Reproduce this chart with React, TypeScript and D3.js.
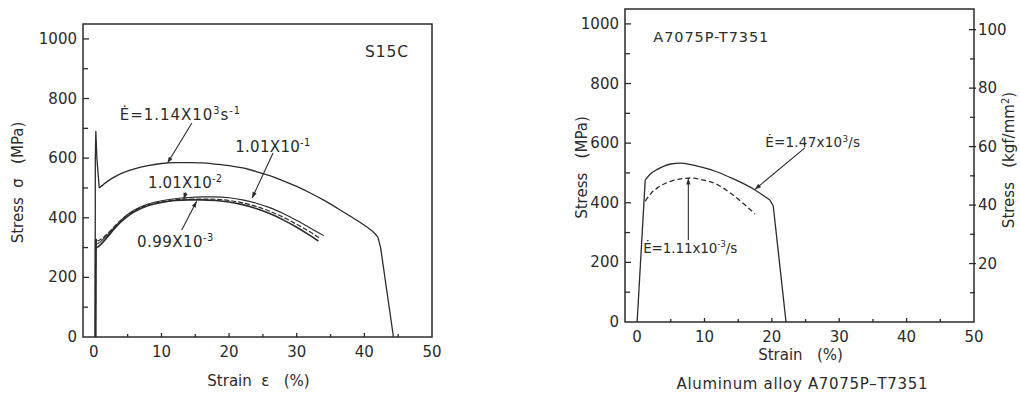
import React from "react";
import * as d3 from "d3";

// ---------- data ----------
const strainTicks = [0, 10, 20, 30, 40, 50];
const strainMinor = [5, 15, 25, 35, 45];
const stressTicks = [0, 200, 400, 600, 800, 1000];
const stressMinor = [100, 300, 500, 700, 900];
const kgfTicks = [20, 40, 60, 80, 100];
const kgfMinor = [10, 30, 50, 70, 90];

// S15C, rate 1.14e3 /s
const s15cFastYield: [number, number][] = [[0.2, 0], [0.22, 600], [0.3, 690], [0.45, 600], [0.8, 500]];
const s15cFastBody: [number, number][] = [
  [0.8, 500], [2, 522], [4, 548], [6, 564], [8, 575], [10, 582], [12, 585], [14, 585], [16, 584],
  [18, 580], [20, 575], [22, 567], [24, 555], [26, 541], [28, 524], [30, 505], [32, 483], [34, 459],
  [36, 432], [38, 404], [40, 375], [41.5, 348], [42.0, 335],
];
const s15cFastFracture: [number, number][] = [[42.0, 335], [42.4, 300], [44.3, 0]];
// S15C, quasi-static rates
const s15cElastic: [number, number][] = [[0.25, 0], [0.3, 330]];
const s15cRate1e1: [number, number][] = [
  [0.5, 312], [1, 320], [2, 342], [3, 367], [4, 391], [5, 411], [6, 426], [8, 446], [10, 457], [12, 464],
  [14, 468], [16, 470], [18, 470], [20, 467], [22, 460], [24, 449], [26, 434], [28, 414], [30, 391],
  [32, 366], [34, 340],
];
const s15cRate1e2: [number, number][] = [
  [0.5, 322], [1, 327], [2, 346], [3, 370], [4, 392], [5, 410], [6, 424], [8, 443], [10, 453], [12, 460],
  [14, 463], [16, 463], [18, 462], [20, 458], [22, 450], [24, 438], [26, 422], [28, 402], [30, 378],
  [32, 352], [33.5, 330],
];
const s15cRate1e3: [number, number][] = [
  [0.5, 300], [1, 310], [2, 335], [3, 362], [4, 386], [5, 405], [6, 420], [8, 440], [10, 451], [12, 458],
  [14, 460], [16, 460], [18, 458], [20, 453], [22, 444], [24, 431], [26, 414], [28, 393], [30, 368],
  [32, 340], [33.2, 322],
];

// A7075P-T7351
const alFastElastic: [number, number][] = [[0, 0], [1.2, 476]];
const alFastBody: [number, number][] = [
  [1.2, 476], [2, 497], [3, 512], [4, 523], [5, 530], [6.4, 533], [8, 528], [9.3, 521], [11.8, 504],
  [14.3, 480], [17.5, 443], [19.7, 409],
];
const alFastFracture: [number, number][] = [[19.7, 409], [20.2, 390], [22.1, 0]];
const alSlowBody: [number, number][] = [
  [1.2, 405], [2, 430], [3, 450], [4, 463], [5, 472], [6.5, 480], [7.9, 483], [9.5, 478], [11.9, 461],
  [14, 430], [16, 393], [17.5, 362],
];

const MPA_PER_KGF = 9.80665;

// ---------- helpers ----------
type Part = { t: string; sup?: boolean };
const INK = "#2b2b2b";
const FONT = "DejaVu Sans, sans-serif";

function RichText({ x, y, parts, size, len }: { x: number; y: number; parts: Part[]; size: number; len?: number }) {
  const out: React.ReactNode[] = [];
  let prevSup = false;
  parts.forEach((p, i) => {
    let dy = 0;
    if (p.sup && !prevSup) dy = -size * 0.4;
    if (!p.sup && prevSup) dy = size * 0.4;
    out.push(
      <tspan key={i} dy={dy} fontSize={p.sup ? size * 0.65 : size}>
        {p.t}
      </tspan>
    );
    prevSup = !!p.sup;
  });
  return (
    <text x={x} y={y} fill={INK} fontFamily={FONT} fontSize={size} textLength={len} lengthAdjust="spacing">
      {out}
    </text>
  );
}

type Ann = { parts: Part[]; tx: number; ty: number; from: [number, number]; to: [number, number] | null; size: number; len?: number };

const s15cAnnotations: Ann[] = [
  { parts: [{ t: "Ė=1.14X10" }, { t: "3", sup: true }, { t: "s" }, { t: "-1", sup: true }], tx: 3.85, ty: 728, from: [14.5, 718], to: [10.9, 584], size: 15, len: 120 },
  { parts: [{ t: "1.01X10" }, { t: "-1", sup: true }], tx: 20.9, ty: 621, from: [26.5, 617], to: [23.4, 466], size: 15, len: 75 },
  { parts: [{ t: "1.01X10" }, { t: "-2", sup: true }], tx: 8.0, ty: 500, from: [13.6, 485], to: [13.3, 463], size: 15, len: 74 },
  { parts: [{ t: "0.99X10" }, { t: "-3", sup: true }], tx: 6.4, ty: 302, from: [13.0, 359], to: [15.2, 455], size: 15, len: 76 },
  { parts: [{ t: "S15C" }], tx: 40.1, ty: 940, from: [0, 0], to: null, size: 15.5, len: 43 },
];
const alAnnotations: Ann[] = [
  { parts: [{ t: "Ė=1.47x10" }, { t: "3", sup: true }, { t: "/s" }], tx: 19.0, ty: 587, from: [24.9, 584], to: [17.5, 445], size: 13.5, len: 95 },
  { parts: [{ t: "Ė=1.11x10" }, { t: "-3", sup: true }, { t: "/s" }], tx: 0.9, ty: 232, from: [7.6, 275], to: [7.6, 481], size: 13.5, len: 94 },
  { parts: [{ t: "A7075P-T7351" }], tx: 2.4, ty: 940, from: [0, 0], to: null, size: 14.5, len: 115 },
];

function Arrow({ x1, y1, x2, y2 }: { x1: number; y1: number; x2: number; y2: number }) {
  const a = Math.atan2(y2 - y1, x2 - x1);
  const L = 6, W = 2.2;
  const bx = x2 - L * Math.cos(a), by = y2 - L * Math.sin(a);
  const p = `${x2},${y2} ${bx + W * Math.sin(a)},${by - W * Math.cos(a)} ${bx - W * Math.sin(a)},${by + W * Math.cos(a)}`;
  return (
    <g>
      <line x1={x1} y1={y1} x2={x2} y2={y2} stroke={INK} strokeWidth={1.1} />
      <polygon points={p} fill={INK} />
    </g>
  );
}

type Series = { data: [number, number][]; smooth: boolean; dash?: string; width?: number };

function Panel({
  xr, xMin, yr, series, anns, leftLabel, bottomLabel, bottomY, leftLabelX, rightAxis,
}: {
  xr: [number, number]; xMin: number; yr: [number, number]; series: Series[]; anns: Ann[];
  leftLabel: string; bottomLabel: string; bottomY: number; leftLabelX: number; rightAxis?: boolean;
}) {
  const x = d3.scaleLinear().domain([xMin, 50]).range(xr);
  const y = d3.scaleLinear().domain([0, 1050]).range(yr);
  const yk = d3.scaleLinear().domain([0, 1050 / MPA_PER_KGF]).range(yr);
  const smoothLine = d3.line<[number, number]>().x((d) => x(d[0])).y((d) => y(d[1])).curve(d3.curveMonotoneX);
  const linLine = d3.line<[number, number]>().x((d) => x(d[0])).y((d) => y(d[1]));
  const [x0, x1] = xr;
  const [y0, y1] = yr;
  const fs = 15;
  const midY = (y0 + y1) / 2 + 2;
  return (
    <g>
      {series.map((s, i) => (
        <path key={i} d={(s.smooth ? smoothLine : linLine)(s.data) || ""} fill="none" stroke={INK}
          strokeWidth={s.width ?? 1.3} strokeDasharray={s.dash} strokeLinejoin="round" />
      ))}
      <rect x={x0} y={y1} width={x1 - x0} height={y0 - y1} fill="none" stroke={INK} strokeWidth={1.5} />
      {strainTicks.map((t) => (
        <g key={"xt" + t}>
          {t > 0 && t < 50 && <line x1={x(t)} x2={x(t)} y1={y0} y2={y0 - 4} stroke={INK} strokeWidth={1.3} />}
          <text x={x(t)} y={y0 + 20} textAnchor="middle" fill={INK} fontFamily={FONT} fontSize={fs}>{t}</text>
        </g>
      ))}
      {strainMinor.map((t) => (
        <line key={"xm" + t} x1={x(t)} x2={x(t)} y1={y0} y2={y0 - 3} stroke={INK} strokeWidth={1.3} />
      ))}
      {stressTicks.map((t) => (
        <g key={"yt" + t}>
          {t > 0 && <line x1={x0} x2={x0 + 6} y1={y(t)} y2={y(t)} stroke={INK} strokeWidth={1.3} />}
          <text x={x0 - 6} y={y(t) + 5} textAnchor="end" fill={INK} fontFamily={FONT} fontSize={fs}>{t}</text>
        </g>
      ))}
      {stressMinor.map((t) => (
        <line key={"ym" + t} x1={x0} x2={x0 + 5} y1={y(t)} y2={y(t)} stroke={INK} strokeWidth={1.3} />
      ))}
      {rightAxis && kgfTicks.map((t) => (
        <g key={"kt" + t}>
          <line x1={x1 - 5} x2={x1 + 2} y1={yk(t)} y2={yk(t)} stroke={INK} strokeWidth={1.3} />
          <text x={x1 + 4} y={yk(t) + 5} textAnchor="start" fill={INK} fontFamily={FONT} fontSize={fs}>{t}</text>
        </g>
      ))}
      {rightAxis && kgfMinor.map((t) => (
        <line key={"km" + t} x1={x1 - 4} x2={x1 + 1} y1={yk(t)} y2={yk(t)} stroke={INK} strokeWidth={1.3} />
      ))}
      {anns.map((a, i) => (
        <g key={"a" + i}>
          <RichText x={x(a.tx)} y={y(a.ty)} parts={a.parts} size={a.size} len={a.len} />
          {a.to && <Arrow x1={x(a.from[0])} y1={y(a.from[1])} x2={x(a.to[0])} y2={y(a.to[1])} />}
        </g>
      ))}
      <text x={leftLabelX} y={midY} transform={`rotate(-90 ${leftLabelX} ${midY})`} xmlSpace="preserve"
        textAnchor="middle" fill={INK} fontFamily={FONT} fontSize={fs}>{leftLabel}</text>
      <text x={(x0 + x1) / 2 + 1} y={bottomY} textAnchor="middle" fill={INK} fontFamily={FONT} fontSize={fs}
        xmlSpace="preserve">{bottomLabel}</text>
      {rightAxis && (
        <text x={1014} y={160} transform={`rotate(-90 1014 160)`} textAnchor="middle" fill={INK}
          fontFamily={FONT} fontSize={fs} xmlSpace="preserve">
          <tspan>{"Stress   (kgf/mm"}</tspan><tspan dy={-5} fontSize={10}>2</tspan><tspan dy={5}>)</tspan>
        </text>
      )}
    </g>
  );
}

export default function App() {
  const leftSeries: Series[] = [
    { data: s15cFastYield, smooth: false },
    { data: s15cFastBody, smooth: true },
    { data: s15cFastFracture, smooth: false },
    { data: s15cElastic, smooth: false, width: 2.2 },
    { data: s15cRate1e1, smooth: true, width: 1.1 },
    { data: s15cRate1e2, smooth: true, dash: "5,2", width: 1.2 },
    { data: s15cRate1e3, smooth: true, width: 1.6 },
  ];
  const rightSeries: Series[] = [
    { data: alFastElastic, smooth: false },
    { data: alFastBody, smooth: true },
    { data: alFastFracture, smooth: false },
    { data: alSlowBody, smooth: true, dash: "5,3" },
  ];
  return (
    <svg width={1020} height={395} style={{ position: "absolute", left: 0, top: 0, background: "#fff" }}>
      <rect width={1020} height={395} fill="#fff" />
      <Panel xr={[83, 432]} xMin={-1.6} yr={[337, 24]} series={leftSeries} anns={s15cAnnotations}
        leftLabel={"Stress  σ   (MPa)"} bottomLabel={"Strain  ε   (%)"}
        bottomY={386} leftLabelX={23} />
      <Panel xr={[625, 974]} xMin={-1.8} yr={[322, 9]} series={rightSeries} anns={alAnnotations}
        leftLabel={"Stress   (MPa)"} bottomLabel={"Strain   (%)"}
        bottomY={360} leftLabelX={587} rightAxis />
      <text x={802} y={389} textAnchor="middle" fill={INK} fontFamily={FONT} fontSize={15}
        textLength={251} lengthAdjust="spacing">
        Aluminum alloy A7075P–T7351
      </text>
    </svg>
  );
}
